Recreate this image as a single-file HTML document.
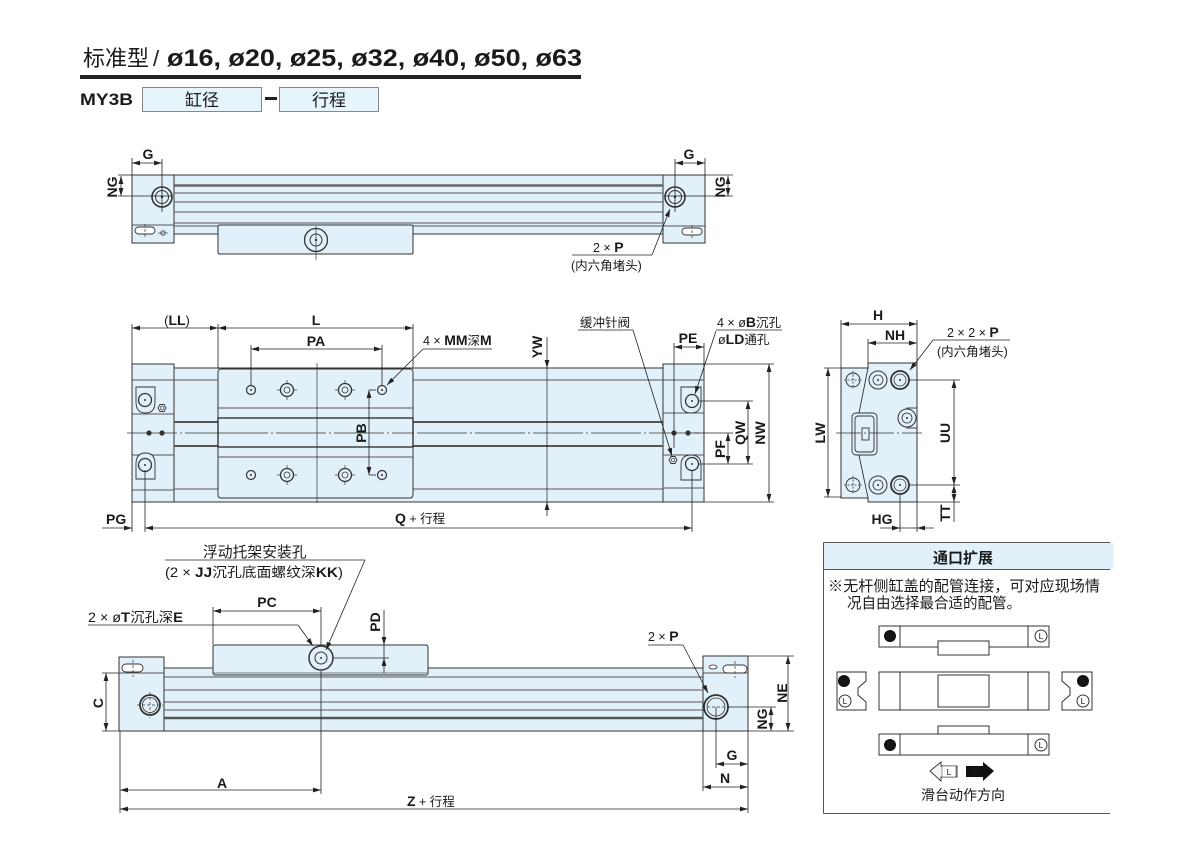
<!DOCTYPE html>
<html><head><meta charset="utf-8">
<style>
html,body{margin:0;padding:0;background:#fff;}
svg{display:block;}
text{font-family:"Liberation Sans","Noto Sans CJK SC",sans-serif;fill:#1a1a1a;}
.b{font-weight:bold;font-size:14px;}
.n{font-size:12.5px;}
.cj{font-family:"Liberation Sans","Noto Sans CJK SC",sans-serif;}
</style></head><body>
<svg width="1200" height="850" viewBox="0 0 1200 850" xmlns="http://www.w3.org/2000/svg">
<defs>
<marker id="a" viewBox="0 0 10 6" refX="10" refY="3" markerWidth="8" markerHeight="5" orient="auto-start-reverse" markerUnits="userSpaceOnUse">
<path d="M0,0 L10,3 L0,6 Z" fill="#222"/>
</marker>
</defs>

<!-- ============ HEADER ============ -->
<text x="83" y="66" font-size="22" class="cj">标准型</text>
<text x="153" y="66" font-size="22" fill="#444">/</text>
<text x="167" y="66" font-size="24" font-weight="bold" textLength="415" lengthAdjust="spacingAndGlyphs">ø16, ø20, ø25, ø32, ø40, ø50, ø63</text>
<rect x="80" y="75" width="501" height="4" fill="#222"/>
<text x="80" y="105" font-size="17" font-weight="bold" textLength="53" lengthAdjust="spacingAndGlyphs">MY3B</text>
<rect x="142.5" y="87.5" width="119" height="24" fill="#e6f4fc" stroke="#888"/>
<text x="202" y="106" font-size="17" text-anchor="middle">缸径</text>
<rect x="265" y="97" width="12" height="3" fill="#222"/>
<rect x="279.5" y="87.5" width="99" height="24" fill="#e6f4fc" stroke="#888"/>
<text x="329" y="106" font-size="17" text-anchor="middle">行程</text>

<!-- ============ TOP VIEW ============ -->
<g stroke="#333" stroke-width="1" fill="#e2f0f9">
<rect x="174" y="175" width="489" height="59"/>
<rect x="132" y="175" width="42" height="68"/>
<rect x="663" y="175" width="42" height="68"/>
</g>
<line x1="174" y1="185.5" x2="663" y2="185.5" stroke="#666" stroke-width="2.5"/>
<g stroke="#555" stroke-width="0.9">
<line x1="174" y1="193" x2="663" y2="193"/>
<line x1="174" y1="202" x2="663" y2="202"/>
<line x1="174" y1="212" x2="663" y2="212"/>
<line x1="174" y1="223" x2="663" y2="223"/>
<line x1="174" y1="226" x2="663" y2="226"/>
<line x1="132" y1="225" x2="174" y2="225"/>
<line x1="663" y1="226" x2="705" y2="226"/>
</g>
<rect x="135" y="227" width="20" height="7" rx="3.5" fill="#fff" stroke="#333" stroke-width="0.9"/>
<line x1="145" y1="224" x2="145" y2="239" stroke="#333" stroke-width="0.7" stroke-dasharray="3 2"/>
<circle cx="163" cy="233" r="2.2" fill="none" stroke="#333" stroke-width="0.8"/>
<line x1="158" y1="233" x2="168" y2="233" stroke="#333" stroke-width="0.6"/>
<rect x="682" y="228" width="20" height="7" rx="3.5" fill="#fff" stroke="#333" stroke-width="0.9"/>
<line x1="692" y1="225" x2="692" y2="240" stroke="#333" stroke-width="0.7" stroke-dasharray="3 2"/>
<!-- slider -->
<rect x="218" y="225" width="195" height="29" rx="1.5" fill="#e2f0f9" stroke="#333"/>
<circle cx="316" cy="240" r="11.5" fill="#e2f0f9" stroke="#333" stroke-width="1.3"/>
<circle cx="316" cy="240" r="6" fill="none" stroke="#333"/>
<circle cx="316" cy="240" r="1.2" fill="#333"/>
<line x1="316" y1="226" x2="316" y2="260" stroke="#333" stroke-width="0.7"/>
<!-- end holes -->
<circle cx="162" cy="197" r="10" fill="#e2f0f9" stroke="#333" stroke-width="1.6"/>
<circle cx="162" cy="197" r="6.5" fill="none" stroke="#333"/>
<circle cx="162" cy="197" r="1.2" fill="#333"/>
<circle cx="675" cy="197" r="10" fill="#e2f0f9" stroke="#333" stroke-width="1.6"/>
<circle cx="675" cy="197" r="6.5" fill="none" stroke="#333"/>
<circle cx="675" cy="197" r="1.2" fill="#333"/>
<g stroke="#222" stroke-width="0.8" fill="none">
<line x1="162" y1="159" x2="162" y2="212"/>
<line x1="118" y1="196" x2="172" y2="196"/>
<line x1="132" y1="158" x2="132" y2="175"/>
<line x1="118" y1="175" x2="132" y2="175"/>
<line x1="132" y1="163" x2="162" y2="163" marker-start="url(#a)" marker-end="url(#a)"/>
<line x1="121" y1="176" x2="121" y2="196" marker-start="url(#a)" marker-end="url(#a)"/>
<line x1="675" y1="159" x2="675" y2="212"/>
<line x1="665" y1="196" x2="733" y2="196"/>
<line x1="705" y1="158" x2="705" y2="175"/>
<line x1="705" y1="175" x2="733" y2="175"/>
<line x1="675" y1="163" x2="705" y2="163" marker-start="url(#a)" marker-end="url(#a)"/>
<line x1="728" y1="176" x2="728" y2="196" marker-start="url(#a)" marker-end="url(#a)"/>
<polyline points="572,255 652,255"/>
<line x1="652" y1="255" x2="670" y2="209" marker-end="url(#a)"/>
</g>
<text class="b" x="148" y="159" text-anchor="middle">G</text>
<text class="b" x="689" y="159" text-anchor="middle">G</text>
<text class="b" transform="translate(117,187) rotate(-90)" text-anchor="middle">NG</text>
<text class="b" transform="translate(725,187) rotate(-90)" text-anchor="middle">NG</text>
<text x="593" y="252"><tspan font-size="12.5">2 × </tspan><tspan class="b">P</tspan></text>
<text class="n" x="571" y="270">(内六角堵头)</text>

<!-- ============ MIDDLE VIEW ============ -->
<g stroke="#333" stroke-width="1" fill="#e2f0f9">
<rect x="174" y="368" width="489" height="134"/>
<rect x="132" y="364" width="42" height="138"/>
<rect x="663" y="364" width="41" height="138"/>
</g>
<g stroke="#555" stroke-width="0.9">
<line x1="174" y1="380" x2="663" y2="380"/>
<line x1="174" y1="489" x2="663" y2="489"/>
<line x1="132" y1="380" x2="174" y2="380"/>
<line x1="132" y1="414" x2="174" y2="414"/>
<line x1="132" y1="455" x2="174" y2="455"/>
<line x1="132" y1="490" x2="174" y2="490"/>
<line x1="663" y1="380" x2="704" y2="380"/>
<line x1="663" y1="413" x2="704" y2="413"/>
<line x1="663" y1="455" x2="704" y2="455"/>
<line x1="663" y1="488" x2="704" y2="488"/>
</g>
<line x1="174" y1="422" x2="663" y2="422" stroke="#555" stroke-width="2"/>
<line x1="174" y1="446" x2="663" y2="446" stroke="#555" stroke-width="2"/>
<line x1="127" y1="433" x2="700" y2="433" stroke="#333" stroke-width="0.7" stroke-dasharray="50 3 2 3"/>
<!-- slider -->
<rect x="218" y="369" width="195" height="129" rx="3" fill="#e2f0f9" stroke="#333"/>
<line x1="218" y1="408" x2="413" y2="408" stroke="#555" stroke-width="0.9"/>
<line x1="218" y1="457" x2="413" y2="457" stroke="#555" stroke-width="0.9"/>
<rect x="218" y="418" width="195" height="29" fill="#e2f0f9" stroke="#333" stroke-width="1.4"/>
<line x1="218" y1="433" x2="413" y2="433" stroke="#333" stroke-width="0.7" stroke-dasharray="50 3 2 3"/>
<line x1="317" y1="363" x2="317" y2="503" stroke="#333" stroke-width="0.7"/>
<g fill="#e2f0f9" stroke="#333">
<circle cx="251" cy="390" r="4.5" stroke-width="1.2"/><circle cx="382" cy="390" r="4.5" stroke-width="1.2"/>
<circle cx="251" cy="475" r="4.5" stroke-width="1.2"/><circle cx="382" cy="475" r="4.5" stroke-width="1.2"/>
</g>
<g fill="#333">
<circle cx="251" cy="390" r="1"/><circle cx="382" cy="390" r="1"/><circle cx="251" cy="475" r="1"/><circle cx="382" cy="475" r="1"/>
</g>
<g stroke="#333" stroke-width="0.7">
<line x1="277" y1="390" x2="297" y2="390"/><line x1="287" y1="380" x2="287" y2="400"/>
<line x1="335" y1="390" x2="355" y2="390"/><line x1="345" y1="380" x2="345" y2="400"/>
<line x1="277" y1="475" x2="297" y2="475"/><line x1="287" y1="465" x2="287" y2="485"/>
<line x1="335" y1="475" x2="355" y2="475"/><line x1="345" y1="465" x2="345" y2="485"/>
</g>
<g fill="#e2f0f9" stroke="#333" stroke-width="1.3">
<circle cx="287" cy="390" r="6.5"/><circle cx="345" cy="390" r="6.5"/>
<circle cx="287" cy="475" r="6.5"/><circle cx="345" cy="475" r="6.5"/>
</g>
<g fill="none" stroke="#333" stroke-width="0.8">
<circle cx="287" cy="390" r="3"/><circle cx="345" cy="390" r="3"/>
<circle cx="287" cy="475" r="3"/><circle cx="345" cy="475" r="3"/>
</g>
<!-- end block details -->
<g fill="#e2f0f9" stroke="#333" stroke-width="0.9">
<path d="M136,387 H155 V402 Q155,413 145.5,413 Q136,413 136,402 Z"/>
<path d="M136,479 H155 V464 Q155,453 145.5,453 Q136,453 136,464 Z"/>
<path d="M681,387 H701 V402 Q701,413 691,413 Q681,413 681,402 Z"/>
<path d="M681,480 H701 V465 Q701,455 691,455 Q681,455 681,465 Z"/>
</g>
<g fill="#e2f0f9" stroke="#333" stroke-width="1.3">
<circle cx="145" cy="400" r="6.5"/><circle cx="145" cy="465" r="6.5"/>
<circle cx="692" cy="401" r="6.5"/><circle cx="692" cy="464" r="6.5"/>
</g>
<g fill="#333">
<circle cx="145" cy="400" r="1"/><circle cx="145" cy="465" r="1"/>
<circle cx="692" cy="401" r="1"/><circle cx="692" cy="464" r="1"/>
<circle cx="149" cy="433" r="2.6"/><circle cx="162" cy="433" r="2.6"/>
<circle cx="674" cy="433" r="2.6"/><circle cx="688" cy="433" r="2.6"/>
</g>
<polygon points="166,408 164,411.5 160,411.5 158,408 160,404.5 164,404.5" fill="#e2f0f9" stroke="#333" stroke-width="0.9"/>
<circle cx="162" cy="408" r="1.8" fill="none" stroke="#333" stroke-width="0.7"/>
<polygon points="677,460 675,463.5 671,463.5 669,460 671,456.5 675,456.5" fill="#e2f0f9" stroke="#333" stroke-width="0.9"/>
<circle cx="673" cy="460" r="1.8" fill="none" stroke="#333" stroke-width="0.7"/>
<!-- middle dims -->
<g stroke="#222" stroke-width="0.8" fill="none">
<line x1="132" y1="324" x2="132" y2="364"/>
<line x1="218" y1="324" x2="218" y2="369"/>
<line x1="413" y1="324" x2="413" y2="369"/>
<line x1="132" y1="328" x2="218" y2="328" marker-start="url(#a)" marker-end="url(#a)"/>
<line x1="218" y1="328" x2="413" y2="328" marker-start="url(#a)" marker-end="url(#a)"/>
<line x1="251" y1="345" x2="251" y2="386"/>
<line x1="382" y1="345" x2="382" y2="386"/>
<line x1="251" y1="349" x2="382" y2="349" marker-start="url(#a)" marker-end="url(#a)"/>
<line x1="369" y1="390" x2="376" y2="390"/>
<line x1="369" y1="475" x2="376" y2="475"/>
<line x1="369" y1="390" x2="369" y2="475" marker-start="url(#a)" marker-end="url(#a)"/>
<polyline points="492,349 423,349"/>
<line x1="423" y1="349" x2="387" y2="385" marker-end="url(#a)"/>
<line x1="547" y1="337" x2="547" y2="368" marker-end="url(#a)"/>
<line x1="547" y1="368" x2="547" y2="502" stroke-width="0.7"/>
<line x1="547" y1="516" x2="547" y2="502" marker-end="url(#a)"/>
<polyline points="578,330 633,330"/>
<line x1="633" y1="330" x2="672" y2="456" marker-end="url(#a)"/>
<polyline points="782,330 716,330"/>
<line x1="716" y1="331" x2="695" y2="394" marker-end="url(#a)"/>
<line x1="674" y1="343" x2="674" y2="448"/>
<line x1="704" y1="343" x2="704" y2="364"/>
<line x1="674" y1="347" x2="704" y2="347" marker-start="url(#a)" marker-end="url(#a)"/>
<line x1="704" y1="364" x2="774" y2="364"/>
<line x1="704" y1="502" x2="774" y2="502"/>
<line x1="699" y1="401" x2="753" y2="401"/>
<line x1="699" y1="464" x2="753" y2="464"/>
<line x1="694" y1="433" x2="733" y2="433"/>
<line x1="769" y1="364" x2="769" y2="502" marker-start="url(#a)" marker-end="url(#a)"/>
<line x1="748" y1="401" x2="748" y2="464" marker-start="url(#a)" marker-end="url(#a)"/>
<line x1="728" y1="433" x2="728" y2="464" marker-start="url(#a)" marker-end="url(#a)"/>
<line x1="145" y1="470" x2="145" y2="532"/>
<line x1="692" y1="470" x2="692" y2="532"/>
<line x1="132" y1="502" x2="132" y2="532"/>
<line x1="145" y1="528" x2="692" y2="528" marker-start="url(#a)" marker-end="url(#a)"/>
<line x1="102" y1="528" x2="132" y2="528" marker-end="url(#a)"/>
</g>
<text x="177" y="325" text-anchor="middle"><tspan font-size="13">(</tspan><tspan class="b">LL</tspan><tspan font-size="13">)</tspan></text>
<text class="b" x="316" y="325" text-anchor="middle">L</text>
<text class="b" x="316" y="346" text-anchor="middle">PA</text>
<text x="423" y="345"><tspan font-size="12.5">4 × </tspan><tspan class="b">MM</tspan><tspan font-size="12.5">深</tspan><tspan class="b">M</tspan></text>
<text class="b" transform="translate(366,433) rotate(-90)" text-anchor="middle">PB</text>
<text class="b" transform="translate(542,347) rotate(-90)" text-anchor="middle">YW</text>
<text class="n" x="580" y="327">缓冲针阀</text>
<text x="717" y="327"><tspan font-size="12.5">4 × ø</tspan><tspan class="b">B</tspan><tspan font-size="12.5">沉孔</tspan></text>
<text x="718" y="344"><tspan font-size="12.5">ø</tspan><tspan class="b">LD</tspan><tspan font-size="12.5">通孔</tspan></text>
<text class="b" x="688" y="343" text-anchor="middle">PE</text>
<text class="b" transform="translate(725,449) rotate(-90)" text-anchor="middle">PF</text>
<text class="b" transform="translate(745,433) rotate(-90)" text-anchor="middle">QW</text>
<text class="b" transform="translate(765,433) rotate(-90)" text-anchor="middle">NW</text>
<text class="b" x="106" y="524">PG</text>
<text x="395" y="523"><tspan class="b">Q</tspan><tspan font-size="12.5"> + 行程</tspan></text>

<!-- ============ SIDE VIEW ============ -->
<path d="M841,368 H868 V363 H917 V502 H868 V498 H841 Z" fill="#e2f0f9" stroke="#333"/>
<g stroke="#333" stroke-width="0.9" fill="none">
<line x1="868" y1="368" x2="859" y2="413"/>
<line x1="859" y1="455" x2="868" y2="498"/>
<rect x="852" y="413" width="25" height="42" rx="4"/>
<rect x="855" y="416" width="19" height="36" rx="3"/>
<rect x="862" y="428" width="7" height="12"/>
</g>
<rect x="907" y="408" width="10" height="20" fill="#e2f0f9" stroke="#333" stroke-width="0.9"/>
<line x1="836" y1="433" x2="922" y2="433" stroke="#333" stroke-width="0.7" stroke-dasharray="25 3 2 3"/>
<g fill="#e2f0f9" stroke="#333" stroke-width="1">
<circle cx="853" cy="380" r="7"/><circle cx="853" cy="485" r="7"/>
<circle cx="878" cy="380" r="9"/><circle cx="878" cy="485" r="9"/>
<circle cx="900" cy="380" r="9" stroke-width="1.8"/><circle cx="900" cy="485" r="9" stroke-width="1.8"/>
<circle cx="907" cy="418" r="9"/>
</g>
<g fill="none" stroke="#333" stroke-width="0.8">
<circle cx="878" cy="380" r="5"/><circle cx="878" cy="485" r="5"/>
<circle cx="900" cy="380" r="6"/><circle cx="900" cy="485" r="6"/>
<circle cx="907" cy="418" r="5"/>
<line x1="853" y1="371" x2="853" y2="389" stroke-dasharray="2 1.5"/><line x1="844" y1="380" x2="862" y2="380" stroke-dasharray="2 1.5"/>
<line x1="853" y1="476" x2="853" y2="494" stroke-dasharray="2 1.5"/><line x1="844" y1="485" x2="862" y2="485" stroke-dasharray="2 1.5"/>
</g>
<g fill="#333"><circle cx="878" cy="380" r="1"/><circle cx="878" cy="485" r="1"/><circle cx="900" cy="380" r="1"/><circle cx="900" cy="485" r="1"/><circle cx="907" cy="418" r="1"/></g>
<g stroke="#222" stroke-width="0.8" fill="none">
<line x1="841" y1="320" x2="841" y2="368"/>
<line x1="917" y1="320" x2="917" y2="363"/>
<line x1="868" y1="339" x2="868" y2="363"/>
<line x1="841" y1="324" x2="917" y2="324" marker-start="url(#a)" marker-end="url(#a)"/>
<line x1="868" y1="343" x2="917" y2="343" marker-start="url(#a)" marker-end="url(#a)"/>
<polyline points="1010,340 933,340"/>
<line x1="933" y1="340" x2="910" y2="370" marker-end="url(#a)"/>
<line x1="824" y1="368" x2="841" y2="368"/>
<line x1="824" y1="497" x2="841" y2="497"/>
<line x1="828" y1="368" x2="828" y2="497" marker-start="url(#a)" marker-end="url(#a)"/>
<line x1="909" y1="380" x2="960" y2="380"/>
<line x1="909" y1="485" x2="960" y2="485"/>
<line x1="917" y1="502" x2="960" y2="502"/>
<line x1="954" y1="380" x2="954" y2="485" marker-start="url(#a)" marker-end="url(#a)"/>
<line x1="954" y1="485" x2="954" y2="502" marker-start="url(#a)" marker-end="url(#a)"/>
<line x1="954" y1="502" x2="954" y2="522"/>
<line x1="900" y1="494" x2="900" y2="532"/>
<line x1="917" y1="502" x2="917" y2="532"/>
<line x1="880" y1="528" x2="900" y2="528" marker-end="url(#a)"/>
<line x1="934" y1="528" x2="917" y2="528" marker-end="url(#a)"/>
<line x1="900" y1="528" x2="917" y2="528"/>
</g>
<text class="b" x="878" y="320" text-anchor="middle">H</text>
<text class="b" x="895" y="340" text-anchor="middle">NH</text>
<text x="947" y="337"><tspan font-size="12.5">2 × 2 × </tspan><tspan class="b">P</tspan></text>
<text class="n" x="937" y="356">(内六角堵头)</text>
<text class="b" transform="translate(825,433) rotate(-90)" text-anchor="middle">LW</text>
<text class="b" transform="translate(950,433) rotate(-90)" text-anchor="middle">UU</text>
<text class="b" transform="translate(950,513) rotate(-90)" text-anchor="middle">TT</text>
<text class="b" x="882" y="524" text-anchor="middle">HG</text>

<!-- ============ BOTTOM VIEW ============ -->
<g stroke="#333" stroke-width="1" fill="#e2f0f9">
<rect x="164" y="668" width="539" height="63"/>
<rect x="119" y="657" width="45" height="74"/>
<rect x="703" y="656" width="45" height="75"/>
</g>
<g stroke="#555" stroke-width="0.9">
<line x1="164" y1="677" x2="703" y2="677"/>
<line x1="164" y1="690" x2="703" y2="690"/>
<line x1="164" y1="702" x2="703" y2="702"/>
<line x1="164" y1="710" x2="703" y2="710"/>
<line x1="119" y1="673" x2="164" y2="673"/>
<line x1="703" y1="673" x2="748" y2="673"/>
</g>
<line x1="164" y1="718" x2="703" y2="718" stroke="#555" stroke-width="2.5"/>
<rect x="122" y="664" width="21" height="8" rx="4" fill="#fff" stroke="#333" stroke-width="0.9"/>
<line x1="133" y1="660" x2="133" y2="677" stroke="#333" stroke-width="0.7" stroke-dasharray="3 2"/>
<rect x="723" y="665" width="24" height="8" rx="4" fill="#fff" stroke="#333" stroke-width="0.9"/>
<line x1="735" y1="661" x2="735" y2="678" stroke="#333" stroke-width="0.7" stroke-dasharray="3 2"/>
<ellipse cx="713" cy="667" rx="4" ry="2" fill="#fff" stroke="#333" stroke-width="0.8"/>
<!-- slider -->
<rect x="213" y="645" width="215" height="30" rx="2" fill="#e2f0f9" stroke="#333"/>
<line x1="213" y1="673" x2="428" y2="673" stroke="#555" stroke-width="0.8"/>
<circle cx="321" cy="658" r="12" fill="#e2f0f9" stroke="#333" stroke-width="1.5"/>
<circle cx="321" cy="658" r="6" fill="none" stroke="#333"/>
<circle cx="321" cy="658" r="1" fill="#333"/>
<!-- end holes -->
<circle cx="150" cy="705" r="10" fill="#e2f0f9" stroke="#333" stroke-width="1.8"/>
<circle cx="150" cy="705" r="7.5" fill="none" stroke="#333" stroke-width="0.8"/>
<line x1="150" y1="692" x2="150" y2="718" stroke="#333" stroke-width="0.7" stroke-dasharray="3 2"/>
<line x1="137" y1="705" x2="163" y2="705" stroke="#333" stroke-width="0.7" stroke-dasharray="3 2"/>
<circle cx="716" cy="707" r="12" fill="#e2f0f9" stroke="#333" stroke-width="1.8"/>
<circle cx="716" cy="707" r="9" fill="none" stroke="#333" stroke-width="0.8"/>
<line x1="702" y1="707" x2="730" y2="707" stroke="#333" stroke-width="0.7" stroke-dasharray="3 2"/>
<g stroke="#222" stroke-width="0.8" fill="none">
<line x1="321" y1="607" x2="321" y2="645"/>
<line x1="321" y1="671" x2="321" y2="794"/>
<line x1="213" y1="607" x2="213" y2="645"/>
<line x1="213" y1="611" x2="321" y2="611" marker-start="url(#a)" marker-end="url(#a)"/>
<line x1="333" y1="658" x2="389" y2="658"/>
<line x1="384" y1="610" x2="384" y2="645" marker-end="url(#a)"/>
<line x1="384" y1="673" x2="384" y2="658" marker-end="url(#a)"/>
<line x1="384" y1="645" x2="384" y2="658"/>
<polyline points="165,560 365,560"/>
<line x1="365" y1="560" x2="326" y2="650" marker-end="url(#a)"/>
<polyline points="88,625 298,625"/>
<line x1="298" y1="625" x2="313" y2="646" marker-end="url(#a)"/>
<line x1="102" y1="673" x2="119" y2="673"/>
<line x1="102" y1="731" x2="119" y2="731"/>
<line x1="106" y1="673" x2="106" y2="731" marker-start="url(#a)" marker-end="url(#a)"/>
<line x1="120" y1="731" x2="120" y2="813"/>
<line x1="748" y1="731" x2="748" y2="813"/>
<line x1="703" y1="731" x2="703" y2="791"/>
<line x1="716" y1="707" x2="716" y2="768"/>
<line x1="120" y1="790" x2="321" y2="790" marker-start="url(#a)" marker-end="url(#a)"/>
<line x1="120" y1="809" x2="748" y2="809" marker-start="url(#a)" marker-end="url(#a)"/>
<line x1="716" y1="764" x2="748" y2="764" marker-start="url(#a)" marker-end="url(#a)"/>
<line x1="703" y1="787" x2="748" y2="787" marker-start="url(#a)" marker-end="url(#a)"/>
<line x1="748" y1="656" x2="794" y2="656"/>
<line x1="748" y1="731" x2="794" y2="731"/>
<line x1="728" y1="707" x2="776" y2="707"/>
<line x1="788" y1="656" x2="788" y2="731" marker-start="url(#a)" marker-end="url(#a)"/>
<line x1="771" y1="707" x2="771" y2="731" marker-start="url(#a)" marker-end="url(#a)"/>
<polyline points="648,645 683,645"/>
<line x1="683" y1="645" x2="708" y2="693" marker-end="url(#a)"/>
</g>
<text x="203" y="557" font-size="14.8">浮动托架安装孔</text>
<text x="165" y="577" textLength="178" lengthAdjust="spacingAndGlyphs"><tspan font-size="13.5">(2 × </tspan><tspan class="b">JJ</tspan><tspan font-size="13.5">沉孔底面螺纹深</tspan><tspan class="b">KK</tspan><tspan font-size="13.5">)</tspan></text>
<text x="88" y="622" textLength="95" lengthAdjust="spacingAndGlyphs"><tspan font-size="13.5">2 × ø</tspan><tspan class="b">T</tspan><tspan font-size="13.5">沉孔深</tspan><tspan class="b">E</tspan></text>
<text class="b" x="267" y="607" text-anchor="middle">PC</text>
<text class="b" transform="translate(380,622) rotate(-90)" text-anchor="middle">PD</text>
<text class="b" transform="translate(103,703) rotate(-90)" text-anchor="middle">C</text>
<text class="b" x="222" y="788" text-anchor="middle">A</text>
<text x="407" y="806"><tspan class="b">Z</tspan><tspan font-size="12.5"> + 行程</tspan></text>
<text x="648" y="641"><tspan font-size="12.5">2 × </tspan><tspan class="b">P</tspan></text>
<text class="b" x="732" y="760" text-anchor="middle">G</text>
<text class="b" x="725" y="783" text-anchor="middle">N</text>
<text class="b" transform="translate(787,693) rotate(-90)" text-anchor="middle">NE</text>
<text class="b" transform="translate(767,719) rotate(-90)" text-anchor="middle">NG</text>

<!-- ============ PORT BOX ============ -->
<rect x="823.5" y="542.5" width="290" height="27" fill="#e2f0f9"/>
<g stroke="#555" stroke-width="1" fill="none">
<line x1="823.5" y1="542.5" x2="1110" y2="542.5"/>
<line x1="823.5" y1="569.5" x2="1110" y2="569.5"/>
<line x1="823.5" y1="542.5" x2="823.5" y2="813.5"/>
<line x1="823.5" y1="813.5" x2="1110" y2="813.5"/>
</g>
<text x="963" y="563" font-size="15" font-weight="bold" text-anchor="middle">通口扩展</text>
<text x="828" y="591" font-size="15" textLength="272" lengthAdjust="spacingAndGlyphs">※无杆侧缸盖的配管连接，可对应现场情</text>
<text x="847" y="608" font-size="15" textLength="174" lengthAdjust="spacingAndGlyphs">况自由选择最合适的配管。</text>
<g stroke="#333" stroke-width="1" fill="#fff">
<rect x="879" y="626" width="170" height="21"/>
<rect x="938" y="641" width="51" height="14"/>
<line x1="900" y1="626" x2="900" y2="647"/>
<line x1="1028" y1="626" x2="1028" y2="647"/>
<rect x="879" y="672" width="170" height="38"/>
<line x1="900" y1="672" x2="900" y2="710"/>
<line x1="1028" y1="672" x2="1028" y2="710"/>
<rect x="938" y="675" width="51" height="32"/>
<rect x="938" y="726" width="51" height="14"/>
<rect x="879" y="734" width="170" height="21"/>
<line x1="900" y1="734" x2="900" y2="755"/>
<line x1="1028" y1="734" x2="1028" y2="755"/>
<path d="M837,672 H866 V681 L858,688 V695 L866,702 V710 H837 Z"/>
<path d="M1092,672 H1062 V681 L1070,688 V695 L1062,702 V710 H1092 Z"/>
</g>
<g font-size="9" font-weight="bold" text-anchor="middle">
<circle cx="890" cy="636" r="6" fill="#111"/><text x="890" y="639.5" fill="#fff">R</text>
<circle cx="890" cy="745" r="6" fill="#111"/><text x="890" y="748.5" fill="#fff">R</text>
<circle cx="844" cy="681" r="6" fill="#111"/><text x="844" y="684.5" fill="#fff">R</text>
<circle cx="1083" cy="681" r="6" fill="#111"/><text x="1083" y="684.5" fill="#fff">R</text>
</g>
<g font-size="8.5" text-anchor="middle">
<circle cx="1041" cy="636" r="6" fill="#fff" stroke="#333"/><text x="1041" y="639">L</text>
<circle cx="1041" cy="745" r="6" fill="#fff" stroke="#333"/><text x="1041" y="748">L</text>
<circle cx="845" cy="701" r="6" fill="#fff" stroke="#333"/><text x="845" y="704">L</text>
<circle cx="1083" cy="701" r="6" fill="#fff" stroke="#333"/><text x="1083" y="704">L</text>
</g>
<polygon points="930,771 941,762 941,766 957,766 957,777 941,777 941,781" fill="#f4f4f4" stroke="#333" stroke-width="0.9"/>
<rect x="942" y="766" width="14" height="11" fill="#fff" stroke="#555" stroke-width="0.6"/>
<text x="949" y="775" font-size="8.5" text-anchor="middle">L</text>
<polygon points="966,766 983,766 983,762 994,771 983,781 983,777 966,777" fill="#111"/>
<text x="975" y="775" font-size="8.5" font-weight="bold" fill="#fff" text-anchor="middle">R</text>
<text x="963" y="800" font-size="14" text-anchor="middle">滑台动作方向</text>
</svg>
</body></html>
